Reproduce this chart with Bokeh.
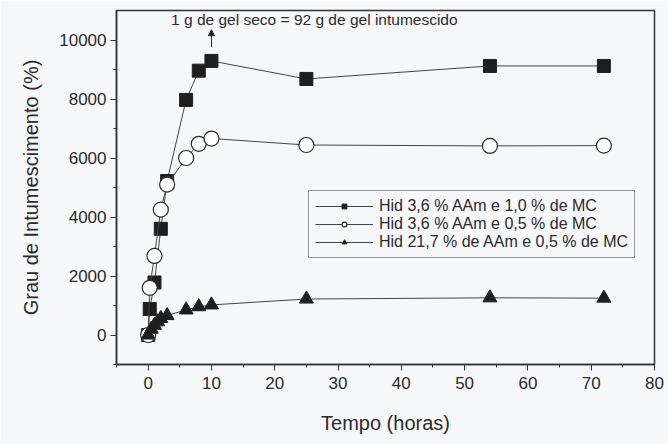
from bokeh.plotting import figure
from bokeh.models import Range1d, FixedTicker, Legend, Arrow, NormalHead, Label
from bokeh.embed import file_html
from bokeh.resources import INLINE

# Data (time in hours, swelling degree in %)
t_sq = [0, 0.25, 1, 2, 3, 6, 8, 10, 25, 54, 72]
y_sq = [0, 880, 1780, 3600, 5220, 7970, 8960, 9290, 8680, 9120, 9120]

t_ci = [0, 0.25, 1, 2, 3, 6, 8, 10, 25, 54, 72]
y_ci = [0, 1600, 2680, 4250, 5100, 6000, 6480, 6660, 6440, 6410, 6420]

t_tr = [0, 0.5, 1, 1.5, 2, 3, 6, 8, 10, 25, 54, 72]
y_tr = [0, 200, 330, 450, 560, 660, 850, 960, 1020, 1220, 1260, 1250]

labels = ["Hid 3,6 % AAm e 1,0 % de MC",
          "Hid 3,6 % AAm e 0,5 % de MC",
          "Hid 21,7 % de AAm e 0,5 % de MC"]

x_ticks = [0, 10, 20, 30, 40, 50, 60, 70, 80]
y_ticks = [0, 2000, 4000, 6000, 8000, 10000]

FONT = "Liberation Sans"
TXT = "#2b2b2b"
BG = "#f6f7f9"

p = figure(width=668, height=444, output_backend="svg", toolbar_location=None,
           x_range=Range1d(-5, 80), y_range=Range1d(-1000, 11000),
           min_border_left=116, min_border_right=14, min_border_top=10,
           min_border_bottom=80)
p.background_fill_color = BG
p.border_fill_color = BG
p.outline_line_color = "#333333"
p.outline_line_width = 1.5
p.grid.visible = False

for ax in (p.xaxis[0], p.yaxis[0]):
    ax.axis_line_color = "#333333"
    ax.axis_line_width = 1.5
    ax.major_tick_line_color = "#333333"
    ax.minor_tick_line_color = "#333333"
    ax.major_tick_in = 0
    ax.major_tick_out = 6
    ax.minor_tick_in = 0
    ax.minor_tick_out = 3
    ax.major_label_text_font = FONT
    ax.major_label_text_font_size = "17px"
    ax.major_label_text_color = TXT
    ax.axis_label_text_font = FONT
    ax.axis_label_text_font_size = "20px"
    ax.axis_label_text_font_style = "normal"
    ax.axis_label_text_color = TXT

p.xaxis.ticker = FixedTicker(ticks=x_ticks, minor_ticks=[-5, 5, 15, 25, 35, 45, 55, 65, 75])
p.yaxis.ticker = FixedTicker(ticks=y_ticks, minor_ticks=[-1000, 1000, 3000, 5000, 7000, 9000])
p.xaxis.axis_label = "Tempo (horas)"
p.yaxis.axis_label = "Grau de Intumescimento (%)"
p.xaxis.major_label_standoff = 6
p.xaxis.axis_label_standoff = 20
p.yaxis.major_label_standoff = 4
p.yaxis.axis_label_standoff = 14

LC = "#444444"
l1 = p.line(t_sq, y_sq, line_color=LC, line_width=1)
m1 = p.scatter(t_sq, y_sq, marker="square", size=13, fill_color="#1e1e1e", line_color="#1e1e1e")
l2 = p.line(t_ci, y_ci, line_color=LC, line_width=1)
m2 = p.scatter(t_ci, y_ci, marker="circle", size=15, fill_color="white", line_color="#2a2a2a", line_width=1.2)
l3 = p.line(t_tr, y_tr, line_color=LC, line_width=1)
m3 = p.scatter(t_tr, y_tr, marker="triangle", size=14, fill_color="#1e1e1e", line_color="#1e1e1e")

legend = Legend(items=[(labels[0], [l1, m1]), (labels[1], [l2, m2]), (labels[2], [l3, m3])],
                location=(192, 106))
legend.label_text_font = FONT
legend.label_text_font_size = "16px"
legend.label_text_color = TXT
legend.glyph_width = 58
legend.glyph_height = 12
legend.label_height = 18
legend.label_standoff = 6
legend.spacing = 0
legend.padding = 6
legend.margin = 0
legend.border_line_color = "#333333"
legend.border_line_width = 1.2
legend.background_fill_color = BG
legend.background_fill_alpha = 1
p.add_layout(legend, "center")

arrow = Arrow(end=NormalHead(size=6, fill_color="#222222", line_color="#222222"),
              x_start=10, y_start=9750, x_end=10, y_end=10350,
              line_color="#222222", line_width=1)
p.add_layout(arrow)

p.add_layout(Label(x=200, y=345, x_units="screen", y_units="screen",
                   text="1 g de gel seco =  92 g de gel intumescido",
                   text_font=FONT, text_font_size="15.5px", text_color=TXT,
                   text_align="center", text_baseline="middle"))

html = file_html(p, INLINE)
open("out.html", "w").write(html)
